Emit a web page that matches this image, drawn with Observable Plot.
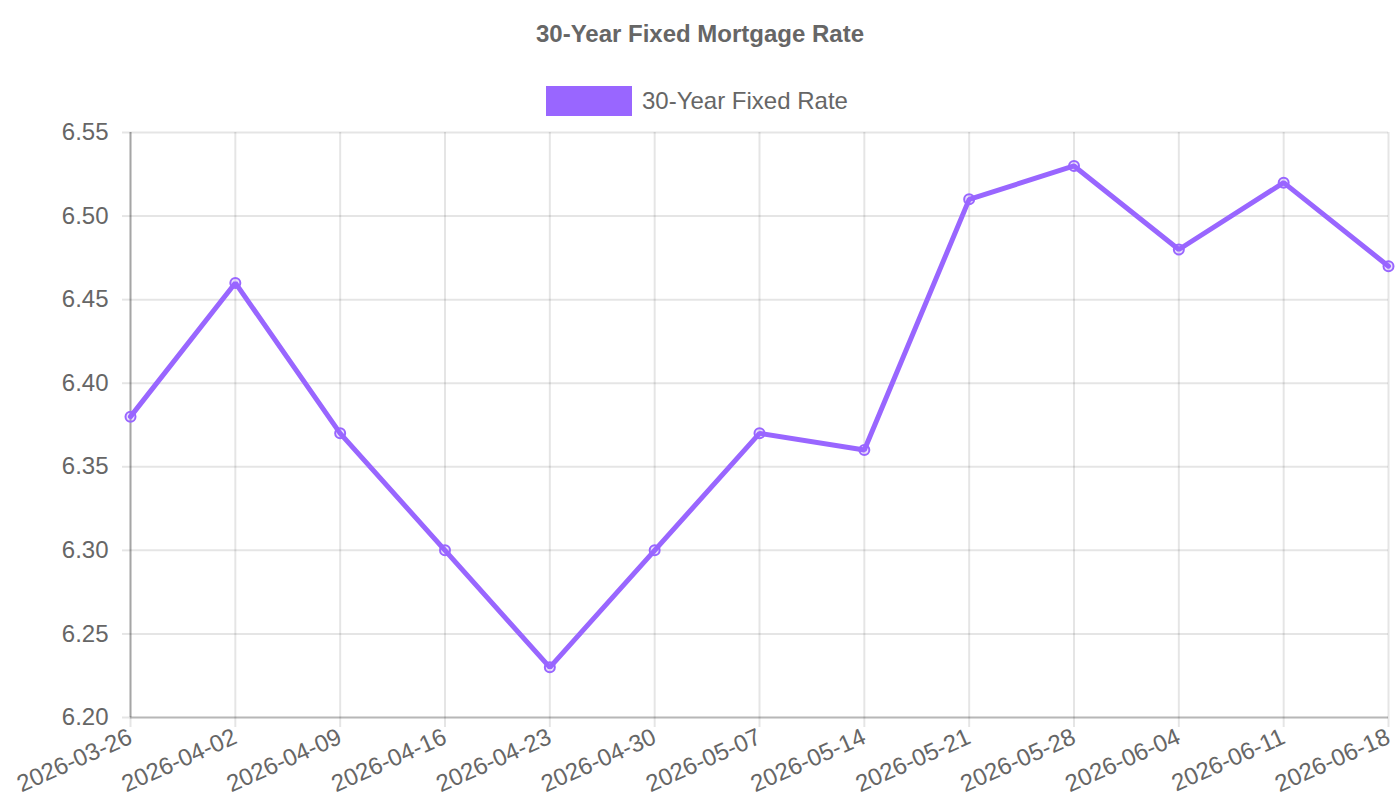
<!DOCTYPE html>
<html>
<head>
<meta charset="utf-8">
<script src="https://cdn.jsdelivr.net/npm/d3@7"></script>
<script src="https://cdn.jsdelivr.net/npm/@observablehq/plot@0.6"></script>
<style>
  html, body { margin: 0; padding: 0; background: #fff; }
  body { width: 1400px; height: 800px; overflow: hidden; font-family: "Liberation Sans", Arial, sans-serif; color: #666; }
  #title { height: 68px; line-height: 68px; text-align: center; font-weight: bold; font-size: 24px; color: #666; }
  #legend { height: 32px; position: relative; z-index: 1; }
  #legend .sw { position: absolute; left: 546px; top: 18px; width: 86px; height: 30px; background: #9966ff; }
  #legend .lb { position: absolute; left: 642px; top: 18px; height: 30px; line-height: 30px; font-size: 24px; color: #666; white-space: nowrap; }
  #chart svg { display: block; background: transparent; }
</style>
</head>
<body>
<div id="title">30-Year Fixed Mortgage Rate</div>
<div id="legend"><span class="sw"></span><span class="lb">30-Year Fixed Rate</span></div>
<div id="chart"></div>
<script>
const dates = ["2026-03-26","2026-04-02","2026-04-09","2026-04-16","2026-04-23","2026-04-30","2026-05-07","2026-05-14","2026-05-21","2026-05-28","2026-06-04","2026-06-11","2026-06-18"];
const rates = [6.38, 6.46, 6.37, 6.30, 6.23, 6.30, 6.37, 6.36, 6.51, 6.53, 6.48, 6.52, 6.47];
const yTicks = [6.20, 6.25, 6.30, 6.35, 6.40, 6.45, 6.50, 6.55];
const seriesName = "30-Year Fixed Rate";

const data = dates.map((d, i) => ({date: d, rate: rates[i], series: seriesName}));
const color = "#9966ff";

const chart = Plot.plot({
  width: 1400,
  height: 700,
  marginTop: 32,
  marginBottom: 83,
  marginLeft: 130,
  marginRight: 12,
  style: {fontFamily: "'Liberation Sans', Arial, sans-serif", fontSize: "24px", color: "#666", background: "transparent"},
  x: {type: "point", domain: dates, padding: 0, round: false, range: [130, 1388]},
  y: {domain: [6.20, 6.55], range: [617, 32]},
  marks: [
    Plot.gridY(yTicks, {stroke: "#000", strokeOpacity: 0.1, strokeWidth: 2}),
    Plot.gridX(dates, {stroke: "#000", strokeOpacity: 0.1, strokeWidth: 2}),
    Plot.axisY(yTicks, {tickFormat: d => d.toFixed(2), tickSize: 8, tickPadding: 14, stroke: "#000", strokeOpacity: 0.1, strokeWidth: 2, fill: "#666", fontSize: 24, label: null}),
    Plot.axisX(dates, {tickSize: 10, tickPadding: 8, tickRotate: -24, stroke: "#000", strokeOpacity: 0.1, strokeWidth: 2, fill: "#666", fontSize: 24, label: null}),
    Plot.ruleY([6.20], {stroke: "#000", strokeOpacity: 0.2, strokeWidth: 2}),
    Plot.ruleX([dates[0]], {stroke: "#000", strokeOpacity: 0.28, strokeWidth: 2}),
    Plot.line(data, {x: "date", y: "rate", stroke: color, strokeWidth: 5, strokeLinejoin: "miter"}),
    Plot.dot(data, {x: "date", y: "rate", r: 5, fill: "rgba(153,102,255,0.2)", stroke: color, strokeWidth: 2})
  ]
});
document.getElementById("chart").appendChild(chart);
</script>
</body>
</html>
